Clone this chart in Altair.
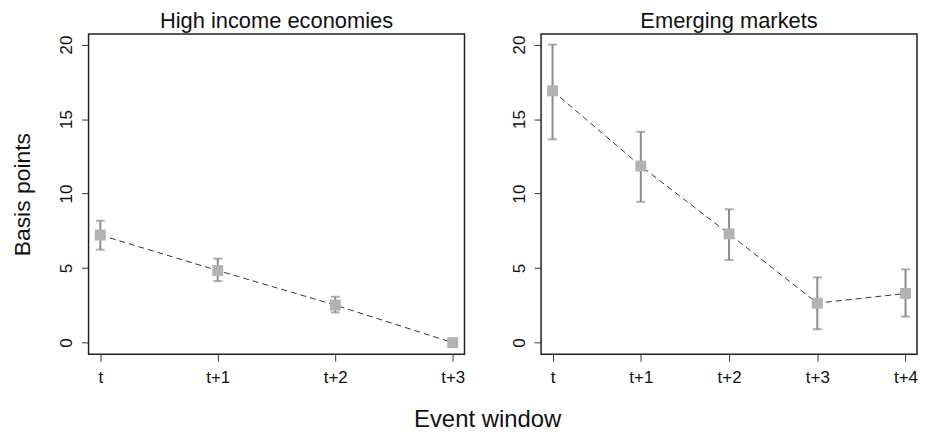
import altair as alt
import pandas as pd

FONT = "Liberation Sans"
ERR = "#8c8c8c"
SQ = "#b2b2b2"

# High income economies
left_labels = ["t", "t+1", "t+2", "t+3"]
left_est = [7.22, 4.84, 2.52, 0.0]
left_lo = [6.24, 4.13, 2.03, 0.0]
left_hi = [8.18, 5.64, 3.08, 0.0]

# Emerging markets
right_labels = ["t", "t+1", "t+2", "t+3", "t+4"]
right_est = [16.9, 11.85, 7.3, 2.65, 3.3]
right_lo = [13.65, 9.45, 5.55, 0.9, 1.75]
right_hi = [20.0, 14.15, 8.95, 4.38, 4.92]

y_ticks = [0, 5, 10, 15, 20]


def panel(labels, est, lo, hi, title, pad, ytitle):
    df = pd.DataFrame({"period": labels, "est": est, "lo": lo, "hi": hi})
    x = alt.X(
        "period:O",
        sort=labels,
        scale=alt.Scale(type="point", padding=pad),
        axis=alt.Axis(title=None, labelAngle=0),
    )
    yscale = alt.Scale(domain=[-0.78, 20.71], nice=False, zero=False)
    if ytitle:
        yaxis = alt.Axis(values=y_ticks, title=ytitle, labelAngle=270,
                         labelAlign="center", labelBaseline="bottom",
                         minExtent=30, maxExtent=30, titlePadding=24,
                         titleFontSize=23, titleFont=FONT,
                         titleFontWeight="normal", titleColor="#111")
    else:
        yaxis = alt.Axis(values=y_ticks, title=None, labelAngle=270,
                         labelAlign="center", labelBaseline="bottom",
                         minExtent=30, maxExtent=30)
    base = alt.Chart(df)
    err = base.mark_rule(color=ERR, strokeWidth=2).encode(
        x=x, y=alt.Y("lo:Q", scale=yscale, axis=yaxis), y2="hi:Q")
    cap_lo = base.mark_tick(orient="horizontal", size=9, thickness=2, color=ERR).encode(
        x=x, y=alt.Y("lo:Q", scale=yscale, axis=yaxis))
    cap_hi = base.mark_tick(orient="horizontal", size=9, thickness=2, color=ERR).encode(
        x=x, y=alt.Y("hi:Q", scale=yscale, axis=yaxis))
    line = base.mark_line(color="#333333", strokeWidth=1, strokeDash=[6, 4]).encode(
        x=x, y=alt.Y("est:Q", scale=yscale, axis=yaxis))
    pts = base.mark_square(size=121, color=SQ, opacity=1).encode(
        x=x, y=alt.Y("est:Q", scale=yscale, axis=yaxis))
    return alt.layer(err, cap_lo, cap_hi, line, pts).properties(
        width=378, height=322,
        title=alt.TitleParams(title, fontSize=22, font=FONT, fontWeight="normal",
                              color="#111", anchor="middle", offset=1),
    )


left = panel(left_labels, left_est, left_lo, left_hi, "High income economies", 0.1, "Basis points")
right = panel(right_labels, right_est, right_lo, right_hi, "Emerging markets", 0.13, None)

chart = alt.hconcat(left, right, spacing=44).properties(
    title=alt.TitleParams("Event window", orient="bottom", anchor="middle",
                          fontSize=24, font=FONT, fontWeight="normal",
                          color="#111", offset=22, dx=23),
).configure(
    padding={"left": 3, "top": 0, "right": 0, "bottom": 0}
).configure_view(
    stroke="#222222", strokeWidth=1.5
).configure_axis(
    domain=False, grid=False, ticks=True, tickSize=7, tickColor="#333333",
    tickWidth=1, labelFont=FONT, labelFontSize=17, labelColor="#111",
    labelPadding=7,
).configure_axisX(labelPadding=8).configure_axisY(labelPadding=6)

chart.save("out.html", embed_options={"renderer": "svg", "actions": False})
